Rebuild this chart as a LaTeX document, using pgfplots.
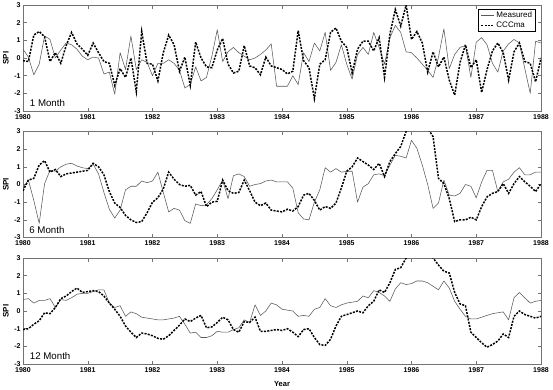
\documentclass[border=0pt]{standalone}
\usepackage{pgfplots}
\pgfplotsset{compat=1.18}
\usepackage{pgfplotstable}
\usepackage{fontspec}
\setmainfont{Liberation Sans}

% monthly SPI, Jan 1980 (m=0) to Jan 1988 (m=96)
\pgfplotstableread{
m meas1 ccc1 meas6 ccc6 meas12 ccc12
0 0.5 -0.15 -0.2 -0.35 0.65 -1.05
1 0.05 -0.2 0.25 0.25 0.7 -1.0
2 -0.95 1.3 -0.9 0.35 0.45 -0.75
3 -0.35 1.5 -2.2 1.1 0.6 -0.55
4 1.25 1.2 0.05 1.35 0.6 -0.1
5 1.05 -0.2 0.8 0.7 0.7 -0.15
6 0.0 0.3 0.75 0.85 0.2 0.2
7 0.45 -0.3 1.0 0.45 0.65 0.7
8 0.85 0.7 1.15 0.6 0.6 0.85
9 0.75 1.45 1.2 0.65 0.75 1.1
10 0.5 0.8 1.05 0.7 0.95 1.3
11 0.1 0.5 0.95 0.75 1.0 1.05
12 -0.1 0.15 0.9 0.8 1.0 1.1
13 0.05 0.85 1.15 1.2 1.1 1.15
14 0.0 0.3 0.6 1.0 1.2 1.1
15 -0.9 -0.2 -0.45 0.55 1.2 0.85
16 -0.8 -0.3 -1.4 -0.4 0.45 0.45
17 -2.05 -1.55 -1.9 -1.05 0.2 0.1
18 0.3 -0.6 -1.45 -1.3 0.3 -0.3
19 -0.65 -1.1 -0.3 -1.75 -0.3 -0.85
20 1.25 0.0 -0.1 -2.0 -0.05 -1.2
21 -0.65 -1.9 -0.1 -2.15 -0.15 -1.5
22 -0.1 1.5 0.2 -2.1 -0.35 -1.25
23 -0.25 -0.3 0.1 -1.6 -0.4 -1.3
24 -1.0 -0.35 0.2 -1.0 -0.45 -1.4
25 -0.3 -1.3 0.7 -0.75 -0.5 -1.55
26 -0.3 0.3 -0.45 -0.25 -0.5 -1.6
27 -0.1 1.3 -1.55 0.7 -0.45 -1.4
28 -0.3 0.75 -1.35 0.3 -0.4 -1.1
29 -0.7 -0.75 -1.45 0.0 -0.3 -0.8
30 -1.7 0.05 -2.05 -0.1 -0.75 -0.45
31 -1.5 -1.55 -2.2 -0.05 -1.25 -0.6
32 -0.5 0.9 -1.1 -0.6 -1.2 -0.4
33 -1.3 0.0 -1.2 -0.4 -1.5 -0.25
34 -1.1 -0.5 -1.15 -1.25 -1.5 -0.95
35 0.1 -0.55 -0.8 -1.0 -1.4 -0.9
36 1.6 0.45 -0.3 -0.95 -1.15 -0.65
37 -0.2 1.1 0.25 0.25 -1.2 -0.35
38 0.35 -0.35 -0.8 -0.35 -1.2 -0.5
39 0.6 -0.85 0.5 -0.5 -1.05 -1.05
40 0.3 -0.75 0.6 -0.45 -0.95 -1.2
41 0.1 0.7 0.45 0.25 -0.5 -0.6
42 -0.1 -0.45 -0.1 -0.35 -0.65 -0.65
43 0.0 -0.55 0.0 -1.0 0.35 -0.35
44 0.2 -0.95 0.05 -1.2 -0.25 -1.15
45 0.45 0.05 0.2 -1.05 0.0 -1.15
46 0.8 -0.45 0.25 -1.45 0.45 -1.1
47 -1.6 -0.55 0.15 -1.5 0.35 -1.05
48 -1.6 -0.65 0.15 -1.55 0.1 -1.1
49 -1.6 -0.9 0.15 -1.4 0.05 -1.0
50 -1.0 -0.75 -0.2 -1.5 0.0 -1.2
51 -1.5 1.55 -1.6 -1.25 -0.3 -1.45
52 0.3 -0.15 -1.95 -0.6 -0.25 -1.05
53 -0.2 -0.55 -2.0 -0.5 -0.3 -1.0
54 0.85 -2.3 -1.0 -0.9 0.1 -1.5
55 0.4 -0.35 -0.3 -1.45 0.2 -1.9
56 1.45 -0.1 0.95 -1.25 0.7 -1.95
57 -0.7 1.45 0.7 -1.35 0.3 -1.6
58 -0.25 1.7 0.9 -1.05 0.2 -0.85
59 0.75 0.95 0.7 -0.2 0.35 -0.3
60 -0.35 0.6 0.75 0.75 0.45 -0.2
61 -1.2 -0.85 0.75 1.0 0.5 -0.1
62 0.2 0.5 -1.0 1.5 0.55 0.0
63 0.6 0.95 -0.15 1.3 0.85 -0.1
64 0.2 0.95 0.05 1.1 0.75 0.3
65 1.45 0.4 0.55 0.85 1.15 0.55
66 0.6 1.15 0.6 1.2 1.05 1.2
67 -0.35 -1.1 0.5 0.45 0.85 1.05
68 1.15 1.35 1.1 1.3 0.55 1.6
69 1.85 2.75 1.65 1.75 1.25 2.35
70 1.45 1.8 1.6 2.15 1.6 2.45
71 0.35 3.0 1.5 3.0 1.5 3.0
72 0.3 1.05 2.5 3.2 1.55 3.3
73 0.0 1.5 2.05 3.3 1.7 3.5
74 -0.35 0.85 1.1 3.3 1.7 3.4
75 -0.7 -0.8 0.0 3.2 1.6 3.3
76 -1.1 0.35 -1.35 2.7 1.4 3.0
77 0.05 -0.5 -1.05 0.35 1.2 2.6
78 1.65 0.05 0.25 0.05 1.7 2.25
79 -0.6 -1.25 -0.6 -0.8 1.3 2.15
80 0.2 -2.1 -0.65 -2.1 0.55 1.05
81 0.6 -0.25 -0.5 -2.0 0.1 0.4
82 0.7 0.75 0.0 -2.0 -0.3 0.3
83 -1.1 -0.55 -0.1 -1.85 -0.45 -1.2
84 0.9 -0.1 -0.75 -2.0 -0.45 -1.5
85 1.15 -1.95 0.15 -1.25 -0.35 -1.8
86 0.75 -0.65 0.8 -0.7 -0.25 -2.05
87 -0.3 0.4 0.8 -0.5 -0.15 -1.9
88 -0.8 0.85 -0.4 -0.4 -0.1 -1.7
89 0.4 0.3 0.15 0.05 -0.05 -1.3
90 0.8 -1.25 0.3 -0.5 -0.5 -1.5
91 1.05 0.35 0.7 0.05 0.75 -0.3
92 0.85 0.85 0.95 0.45 1.05 0.0
93 -0.6 -0.2 0.55 0.15 0.75 -0.2
94 -2.0 -0.3 0.55 -0.1 0.45 -0.3
95 0.95 -1.35 0.7 -0.4 0.55 -0.4
96 0.85 0.0 0.7 0.05 0.6 -0.3
}\spi

\definecolor{framegray}{gray}{0.45}
\definecolor{measgray}{gray}{0.35}

\pgfplotsset{
  spipanel/.style={
    scale only axis, width=518pt, height=106pt,
    xmin=0, xmax=96, ymin=-3, ymax=3,
    xtick={0,12,...,96},
    xticklabels={1980,1981,1982,1983,1984,1985,1986,1987,1988},
    ytick={-3,-2,-1,0,1,2,3},
    tick align=inside, major tick length=3.5pt,
    tick style={framegray, line width=0.5pt},
    axis line style={framegray, line width=0.6pt},
    ticklabel style={font=\fontsize{7}{7}\selectfont\bfseries, inner sep=0pt},
    /pgf/number format/assume math mode=true,
    xticklabel style={yshift=-3.3pt},
    yticklabel style={xshift=-2.3pt},
    ylabel={SPI},
    every axis y label/.style={at={(axis description cs:-0.033,0.5)}, rotate=90, anchor=center, font=\fontsize{8}{8}\selectfont\bfseries},
    anchor=north west,
  },
  measline/.style={measgray, line width=0.55pt, line join=round},
  cccline/.style={black, line width=1.5pt, dash pattern=on 2pt off 1.3pt},
}
\tikzset{plabel/.style={font=\fontsize{9.7}{10}\selectfont, anchor=south west, inner sep=0pt}}

\begin{document}
\begin{tikzpicture}
% 1-month panel
\begin{axis}[spipanel, at={(0pt,0pt)},
  legend style={at={(rel axis cs:0.9898,0.959)}, anchor=north east, draw=black, line width=0.4pt,
    font=\fontsize{8}{8}\selectfont, inner xsep=2pt, inner ysep=1pt, row sep=-0.5pt,
    nodes={inner sep=1.5pt}, cells={anchor=west}},
  legend image code/.code={\draw[#1] (0pt,0pt) -- (13pt,0pt);},
  legend cell align=left]
  \addplot[measline] table[x=m, y=meas1] {\spi};
  \addlegendentry{Measured}
  \addplot[cccline] table[x=m, y=ccc1] {\spi};
  \addlegendentry{CCCma}
  \node[plabel] at (rel axis cs:0.013,0.04) {1 Month};
\end{axis}
% 6-month panel
\begin{axis}[spipanel, at={(0pt,-126.5pt)}]
  \addplot[measline] table[x=m, y=meas6] {\spi};
  \addplot[cccline] table[x=m, y=ccc6] {\spi};
  \node[plabel] at (rel axis cs:0.012,0.035) {6 Month};
\end{axis}
% 12-month panel
\begin{axis}[spipanel, at={(0pt,-253pt)}, xlabel={Year},
  xlabel style={at={(axis description cs:0.5,0)}, anchor=north, yshift=-17.5pt, inner sep=0pt,
    font=\fontsize{7.5}{7.5}\selectfont\bfseries}]
  \addplot[measline] table[x=m, y=meas12] {\spi};
  \addplot[cccline] table[x=m, y=ccc12] {\spi};
  \node[plabel] at (rel axis cs:0.013,0.04) {12 Month};
\end{axis}
\pgfresetboundingbox
\path (-23pt,5pt) rectangle (530pt,-384pt);
\end{tikzpicture}
\end{document}
